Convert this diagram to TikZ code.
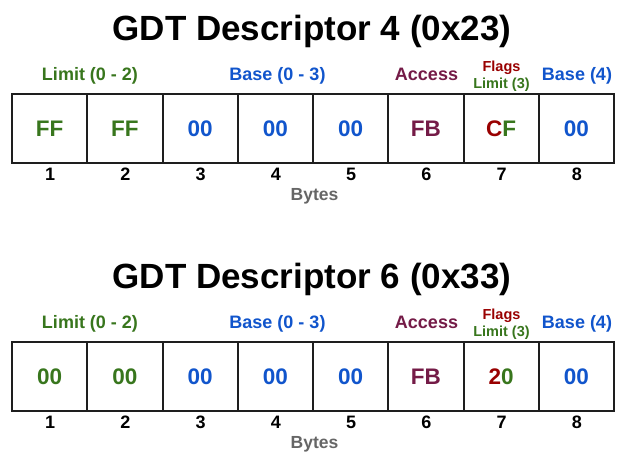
\documentclass[tikz,border=0pt]{standalone}
\usepackage{fontspec}
\setmainfont{Liberation Sans}
\definecolor{cgreen}{HTML}{38761D}
\definecolor{cblue}{HTML}{1155CC}
\definecolor{cmaroon}{HTML}{741B47}
\definecolor{cred}{HTML}{990000}
\definecolor{cgray}{HTML}{666666}
\definecolor{cline}{HTML}{1E1E1E}
\newcommand\gdtdesc[5]{%
  \begin{scope}[yshift=-#2pt]
    \node[titletext] (#1title) at (312,40.5) {GDT Descriptor #3};
    \node[labtext, text=cgreen] (#1llim) at (90,80.5) {Limit (0 - 2)};
    \node[labtext, text=cblue] (#1lbase) at (277.5,80.5) {Base (0 - 3)};
    \node[labtext, text=cmaroon] (#1lacc) at (426.5,80.5) {Access};
    \node[smalltext, text=cred] (#1lflags) at (501.5,71.5) {Flags};
    \node[smalltext, text=cgreen] (#1llim3) at (501.5,88) {Limit (3)};
    \node[labtext, text=cblue] (#1lbase4) at (577,80.5) {Base (4)};
    \foreach \k/\v/\c in {1/#4/cgreen, 2/#4/cgreen, 3/00/cblue, 4/00/cblue, 5/00/cblue, 6/FB/cmaroon, 8/00/cblue}{
      \node[cellbox, text=\c] (#1c\k) at ({12+75.25*(\k-0.5)},128.5) {\v};
    }
    \node[cellbox] (#1c7) at ({12+75.25*6.5},128.5) {#5};
    \foreach \k in {1,...,8}{
      \node[numtext] (#1n\k) at ({12.5+75.25*(\k-0.5)},174) {\k};
    }
    \node[bytestext] (#1bytes) at (314.5,196) {Bytes};
  \end{scope}}
\begin{document}
\begin{tikzpicture}[x=1pt,y=-1pt,
  cellbox/.style={draw=cline, line width=2pt, minimum width=75.25pt, minimum height=69pt, inner sep=0pt, font=\bfseries\fontsize{22.5}{24}\selectfont},
  titletext/.style={font=\bfseries\fontsize{35}{40}\selectfont, anchor=base, inner sep=0pt},
  labtext/.style={font=\bfseries\fontsize{18}{20}\selectfont, anchor=base, inner sep=0pt},
  smalltext/.style={font=\bfseries\fontsize{14.5}{16}\selectfont, anchor=base, inner sep=0pt},
  numtext/.style={font=\bfseries\fontsize{18}{20}\selectfont, inner sep=0pt},
  bytestext/.style={font=\bfseries\fontsize{17.5}{20}\selectfont, text=cgray, inner sep=0pt}]
  \useasboundingbox[fill=white] (0,0) rectangle (628,466);
  \gdtdesc{a}{0}{4 (0x23)}{FF}{\textcolor{cred}{C}\textcolor{cgreen}{F}}
  \gdtdesc{b}{248}{6 (0x33)}{00}{\textcolor{cred}{2}\textcolor{cgreen}{0}}
\end{tikzpicture}
\end{document}
